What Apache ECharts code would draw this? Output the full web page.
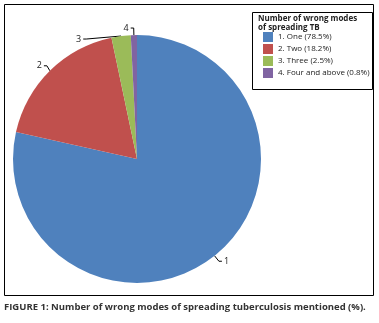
<!DOCTYPE html>
<html>
<head>
<meta charset="utf-8">
<script src="https://cdn.jsdelivr.net/npm/echarts@6/dist/echarts.min.js"></script>
<style>
html, body { margin: 0; padding: 0; background: #fff; }
#chart { width: 379px; height: 323px; }
</style>
</head>
<body>
<div id="chart"></div>
<script>
// data
const categories = ['1. One (78.5%)', '2. Two (18.2%)', '3. Three (2.5%)', '4. Four and above (0.8%)']
const shortLabels = ['1', '2', '3', '4']
const values = [78.5, 18.2, 2.5, 0.8]
const colors = ['#4F81BD', '#C0504D', '#9BBB59', '#8064A2']

const font = '"Open Sans", "Liberation Sans", sans-serif'
const myChart = echarts.init(document.getElementById('chart'))

myChart.setOption({
  animation: false,
  color: colors,
  legend: {
    orient: 'vertical',
    left: 258,
    top: 27,
    itemWidth: 10,
    itemHeight: 10,
    itemGap: 2,
    icon: 'rect',
    data: categories,
    textStyle: { fontFamily: font, fontSize: 8, color: '#222' }
  },
  graphic: [{
    // outer chart frame
    type: 'rect',
    shape: { x: 4.5, y: 4.5, width: 369, height: 291 },
    style: { fill: 'none', stroke: '#000', lineWidth: 1 }
  }, {
    // legend frame
    type: 'rect',
    shape: { x: 252.5, y: 12.5, width: 120, height: 77 },
    style: { fill: 'none', stroke: '#000', lineWidth: 1 }
  }, {
    type: 'text',
    left: 258,
    top: 14,
    style: {
      text: 'Number of wrong modes\nof spreading TB',
      font: 'bold 8px ' + font,
      lineHeight: 9,
      fill: '#222'
    }
  }, {
    type: 'text',
    left: 4,
    top: 302,
    style: {
      text: 'FIGURE 1: Number of wrong modes of spreading tuberculosis mentioned (%).',
      font: 'bold 9.5px ' + font,
      fill: '#333'
    }
  }],
  series: [{
    type: 'pie',
    center: [137, 159],
    radius: 124,
    startAngle: 90,
    clockwise: true,
    data: categories.map((c, i) => ({ name: c, value: values[i] })),
    label: {
      show: true,
      position: 'outside',
      formatter: p => shortLabels[p.dataIndex],
      fontFamily: font,
      fontSize: 9,
      color: '#222',
      distanceToLabelLine: 2
    },
    labelLine: {
      show: true,
      length: 7,
      length2: 3,
      lineStyle: { color: '#000', width: 1 }
    },
    itemStyle: { borderWidth: 0 },
    emphasis: { disabled: true }
  }]
})
</script>
</body>
</html>
